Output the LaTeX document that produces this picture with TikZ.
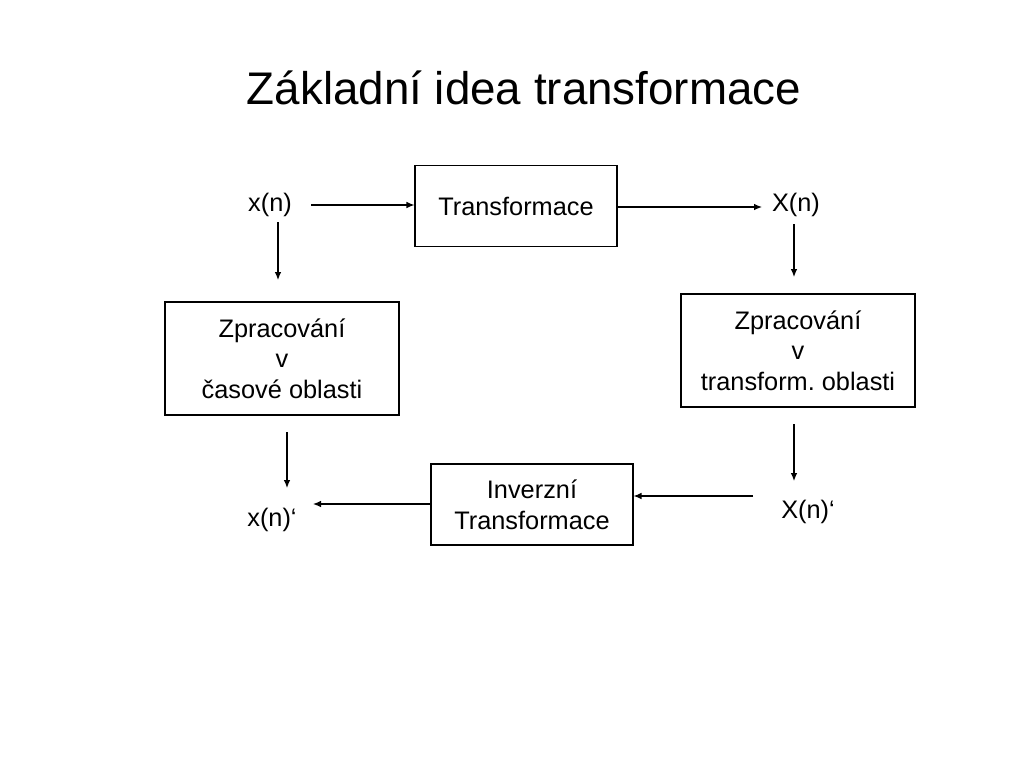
\documentclass[tikz,border=0pt]{standalone}
\usepackage{fontspec}
\setmainfont{Liberation Sans}
\frenchspacing
\usetikzlibrary{arrows.meta}
\begin{document}
\begin{tikzpicture}[x=0.75pt,y=-0.75pt,
  box/.style={draw, line width=0.8pt, align=center, inner sep=0pt,
    font=\fontsize{19}{23}\selectfont},
  lbl/.style={inner sep=0pt, font=\fontsize{19}{23}\selectfont},
  arr/.style={line width=0.9pt, -{Latex[length=6pt,width=5pt]}}]
\useasboundingbox (0,0) rectangle (1024,768);
\node[inner sep=0pt, font=\fontsize{34.3}{40}\selectfont] (title) at (524,88) {Základní idea transformace};
\node[box, minimum width=151.5pt, minimum height=60.75pt] (T) at (516,206) {Transformace};
\node[lbl] (x) at (270,205) {x(n)};
\node[lbl] (X) at (796,205) {X(n)};
\node[box, minimum width=175.5pt, minimum height=84.75pt] (ZL) at (282,358.5) {Zpracování\\v\\časové oblasti};
\node[box, minimum width=175.5pt, minimum height=84.75pt] (ZR) at (798,350.5) {Zpracování\\v\\transform. oblasti};
\node[box, minimum width=151.5pt, minimum height=60.75pt] (I) at (532,504.5) {Inverzní\\Transformace};
\node[lbl] (xp) at (272,520) {x(n)‘};
\node[lbl] (Xp) at (808,512) {X(n)‘};
\coordinate (a1) at (311,205);
\coordinate (a2) at (762,207);
\draw[arr] (a1) -- (T.west |- a1);
\draw[arr] (T.east |- a2) -- (a2);
\coordinate (d1s) at (278,222); \coordinate (d1e) at (278,280);
\draw[arr] (d1s) -- (d1e);
\coordinate (d2s) at (794,224); \coordinate (d2e) at (794,277);
\draw[arr] (d2s) -- (d2e);
\coordinate (d3s) at (287,432); \coordinate (d3e) at (287,488);
\draw[arr] (d3s) -- (d3e);
\coordinate (d4s) at (794,424); \coordinate (d4e) at (794,481);
\draw[arr] (d4s) -- (d4e);
\coordinate (r1) at (753,496);
\draw[arr] (r1) -- (I.east |- r1);
\coordinate (l1) at (313,504);
\draw[arr] (I.west |- l1) -- (l1);
\end{tikzpicture}
\end{document}
